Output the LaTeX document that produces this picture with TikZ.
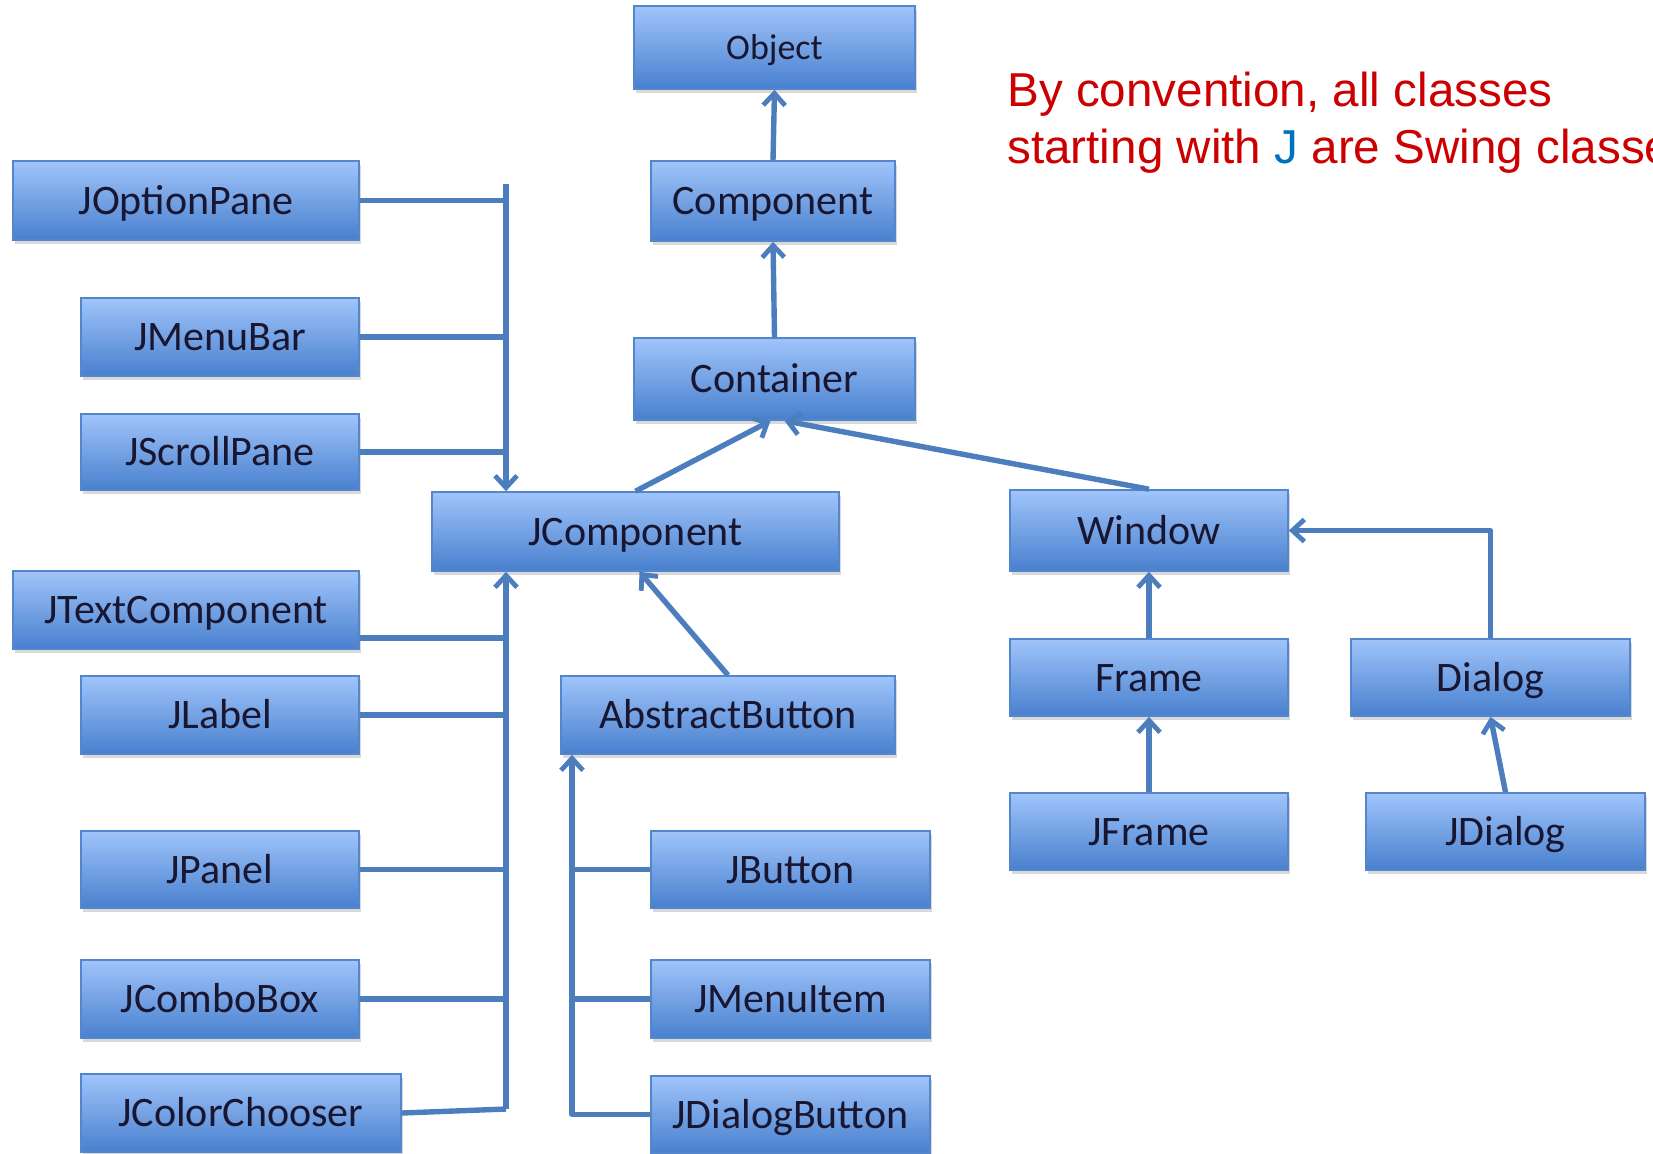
\documentclass[tikz,border=0pt]{standalone}
\usepackage{fontspec}
\setmainfont{Carlito}
\newfontfamily\notefont{Liberation Sans}
\usetikzlibrary{arrows.meta,shadows}

\definecolor{boxtop}{RGB}{160,196,250}
\definecolor{boxbot}{RGB}{72,128,206}
\definecolor{boxedge}{RGB}{84,134,204}
\definecolor{linkblue}{RGB}{76,126,190}
\definecolor{labelink}{RGB}{24,22,48}
\definecolor{notered}{RGB}{204,0,0}
\definecolor{noteblue}{RGB}{0,112,192}

\tikzset{
  cls/.style={rectangle, draw=boxedge, line width=0.8pt,
    top color=boxtop, bottom color=boxbot, text=labelink,
    font=\fontsize{21}{21}\selectfont, inner sep=0pt,
    text height=13.5pt, text depth=0pt,
    drop shadow={opacity=0.3, shadow xshift=1pt, shadow yshift=-2pt}},
  conn/.style={draw=linkblue, line width=2.7pt, line join=round},
  inh/.style={conn, -{Straight Barb[length=6pt,width=11pt,line width=2.4pt]}}
}

\begin{document}
\begin{tikzpicture}[x=0.5pt,y=-0.5pt]
\useasboundingbox (0,0) rectangle (1653,1153);

% class boxes
\node[cls, minimum width=140.5pt, minimum height=41.5pt, font=\fontsize{18}{18}\selectfont, text height=11.6pt] (obj) at (774.5,47.5) {Object};
\node[cls, minimum width=122pt, minimum height=40pt] (comp) at (773,201) {Component};
\node[cls, minimum width=140.5pt, minimum height=41pt] (cont) at (774.5,379) {Container};
\node[cls, minimum width=173pt, minimum height=39.5pt] (jopt) at (186,200.5) {JOptionPane};
\node[cls, minimum width=139pt, minimum height=39pt] (jmenubar) at (220,337) {JMenuBar};
\node[cls, minimum width=139pt, minimum height=38pt] (jscroll) at (220,452) {JScrollPane};
\node[cls, minimum width=203.5pt, minimum height=39.5pt] (jcomp) at (635.5,531.5) {JComponent};
\node[cls, minimum width=139pt, minimum height=40.5pt] (window) at (1149,530.5) {Window};
\node[cls, minimum width=173pt, minimum height=39pt] (jtext) at (186,610) {JTextComponent};
\node[cls, minimum width=139pt, minimum height=39pt] (jlabel) at (220,715) {JLabel};
\node[cls, minimum width=167pt, minimum height=39pt] (abtn) at (728,715) {AbstractButton};
\node[cls, minimum width=139pt, minimum height=38.5pt] (frame) at (1149,677.5) {Frame};
\node[cls, minimum width=139.5pt, minimum height=38.5pt] (dialog) at (1490.5,677.5) {Dialog};
\node[cls, minimum width=139pt, minimum height=38.5pt] (jframe) at (1149,831.5) {JFrame};
\node[cls, minimum width=139.5pt, minimum height=38.5pt] (jdialog) at (1505.5,831.5) {JDialog};
\node[cls, minimum width=139pt, minimum height=38.5pt] (jpanel) at (220,869.5) {JPanel};
\node[cls, minimum width=139.5pt, minimum height=38.5pt] (jbutton) at (790.5,869.5) {JButton};
\node[cls, minimum width=139pt, minimum height=39pt] (jcombo) at (220,999) {JComboBox};
\node[cls, minimum width=139.5pt, minimum height=39pt] (jmenuitem) at (790.5,999) {JMenuItem};
\node[cls, minimum width=160pt, minimum height=39pt] (jcolor) at (241,1113) {JColorChooser};
\node[cls, minimum width=139.5pt, minimum height=38.5pt] (jdlgbtn) at (790.5,1114.5) {JDialogButton};

% note, running off the right edge
\node[anchor=base west, inner sep=0pt, text=notered, font=\notefont\fontsize{23.8}{28}\selectfont] (note1) at (1007,106) {By convention, all classes};
\node[anchor=base west, inner sep=0pt, text=notered, font=\notefont\fontsize{23.8}{28}\selectfont] (note2) at (1007,163) {starting with \textcolor{noteblue}{J} are Swing classes};

% AWT chain
\draw[inh] (comp.north) -- (obj.south);
\draw[inh] (cont.north) -- (comp.south);
\draw[inh] (jcomp.north) -- ([xshift=-2pt]cont.south);
\draw[inh] (window.north) -- ([xshift=5pt]cont.south);
\draw[inh] (frame.north) -- (window.south);
\draw[inh] (jframe.north) -- (frame.south);
\draw[inh] (dialog.north) |- (window.east);
\draw[inh] (jdialog.north) -- (dialog.south);

% upper bus into JComponent
\coordinate (busA) at (506,184);
\draw[conn] (jopt.east) -- (jopt.east -| busA);
\draw[conn] (jmenubar.east) -- (jmenubar.east -| busA);
\draw[conn] (jscroll.east) -- (jscroll.east -| busA);
\draw[inh] (busA) -- (busA |- jcomp.north);

% lower bus into JComponent
\coordinate (busB) at (506,1109);
\draw[conn] (jtext.east |- 0,638) -- (busB |- 0,638);
\draw[conn] (jlabel.east) -- (jlabel.east -| busB);
\draw[conn] (jpanel.east) -- (jpanel.east -| busB);
\draw[conn] (jcombo.east) -- (jcombo.east -| busB);
\draw[conn] (jcolor.east) -- (busB);
\draw[inh] (busB) -- (busB |- jcomp.south);

% AbstractButton and its subclasses
\draw[inh] (abtn.north) -- ([xshift=2pt]jcomp.south);
\coordinate (busC) at (572,1114.5);
\draw[conn] (jbutton.west) -- (jbutton.west -| busC);
\draw[conn] (jmenuitem.west) -- (jmenuitem.west -| busC);
\draw[inh] (jdlgbtn.west) -- (busC) -- (busC |- abtn.south);
\end{tikzpicture}
\end{document}
